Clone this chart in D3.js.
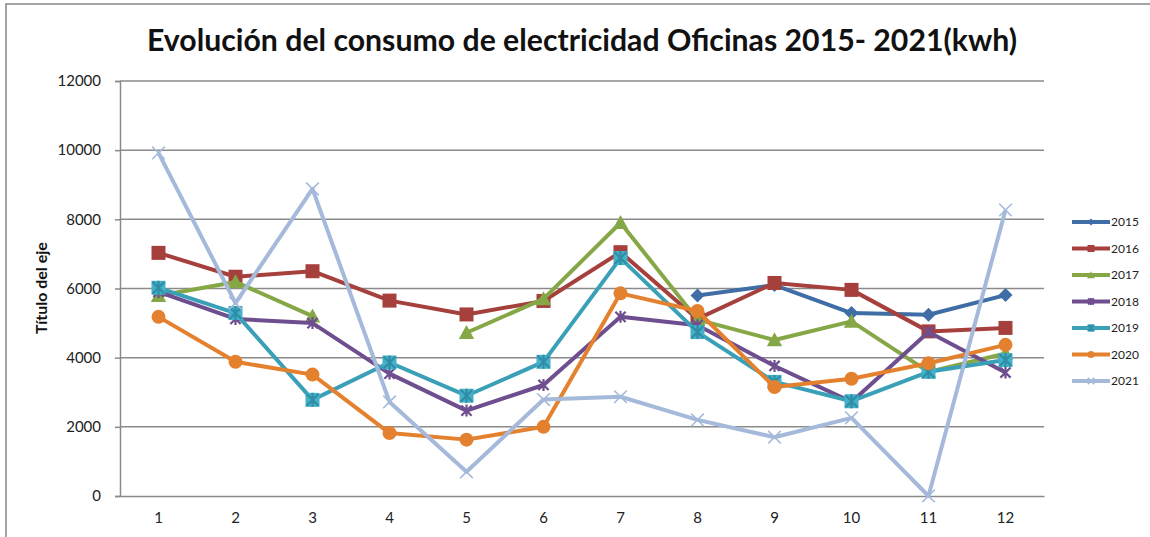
<!DOCTYPE html>
<html>
<head>
<meta charset="utf-8">
<script src="https://cdn.jsdelivr.net/npm/d3@7"></script>
<style>
  body { margin: 0; background: #fff; }
  svg { display: block; font-family: Lato, "Open Sans", sans-serif; }
</style>
</head>
<body>
<svg id="chart" width="1150" height="537"></svg>
<script>
// months on the x axis
var months = [1, 2, 3, 4, 5, 6, 7, 8, 9, 10, 11, 12];
var yTicks = [0, 2000, 4000, 6000, 8000, 10000, 12000];
var years = ['2015', '2016', '2017', '2018', '2019', '2020', '2021'];

// consumption per year (null = no data)
var v2015 = [null, null, null, null, null, null, null, 5800, 6100, 5290, 5240, 5810];
var v2016 = [7030, 6340, 6500, 5650, 5250, 5640, 7050, 5120, 6160, 5960, 4760, 4860];
var v2017 = [5790, 6190, 5200, null, 4720, 5700, 7900, 5100, 4510, 5050, 3590, 4120];
var v2018 = [5900, 5120, 5000, 3540, 2470, 3210, 5180, 4940, 3760, 2720, 4740, 3570];
var v2019 = [6020, 5290, 2780, 3860, 2900, 3880, 6880, 4740, 3300, 2740, 3590, 3930];
var v2020 = [5180, 3880, 3510, 1820, 1630, 2000, 5860, 5350, 3150, 3390, 3840, 4370];
var v2021 = [9920, 5580, 8880, 2720, 700, 2790, 2870, 2200, 1700, 2260, 0, 8270];

var seriesValues = [v2015, v2016, v2017, v2018, v2019, v2020, v2021];
var colors = ['#3f6ea7', '#a5403d', '#86a746', '#6e4e8e', '#3aa0b8', '#e3812f', '#a5b9da'];
var markers = ['diamond', 'square', 'triangle', 'star', 'squarestar', 'circle', 'cross'];

var svg = d3.select('#chart');

// outer chart border (cropped at right/bottom)
svg.append('rect')
    .attr('x', 6).attr('y', 4)
    .attr('width', 1200).attr('height', 600)
    .attr('fill', 'none')
    .attr('stroke', '#868686')
    .attr('stroke-width', 1.5);

var plot = {l: 120, r: 1044, t: 81, b: 496};

var x = d3.scaleBand().domain(months).range([plot.l, plot.r]).paddingInner(0).paddingOuter(0);
var y = d3.scaleLinear().domain([0, 12000]).range([plot.b, plot.t]);
function cx(m) { return x(m) + x.bandwidth() / 2; }

// gridlines
svg.append('g')
    .selectAll('line')
    .data(yTicks.filter(function(d) { return d > 0; }))
    .enter().append('line')
    .attr('x1', plot.l).attr('x2', plot.r)
    .attr('y1', function(d) { return y(d); })
    .attr('y2', function(d) { return y(d); })
    .attr('stroke', '#8a8a8a')
    .attr('stroke-width', 1.5);

// y axis
var yAxis = d3.axisLeft(y).tickValues(yTicks).tickSize(5).tickPadding(14).tickFormat(d3.format('d'));
var yG = svg.append('g').attr('transform', 'translate(' + plot.l + ',0)').call(yAxis);
yG.select('.domain').attr('stroke', '#8a8a8a').attr('stroke-width', 1.5);
yG.selectAll('.tick line').attr('stroke', '#8a8a8a').attr('stroke-width', 1.5);
yG.selectAll('text').attr('font-size', 15).attr('fill', '#222').style('font-family', 'Lato, sans-serif');

// x axis
var xAxis = d3.axisBottom(x).tickSize(0).tickPadding(16);
var xG = svg.append('g').attr('transform', 'translate(0,' + plot.b + ')').call(xAxis);
xG.select('.domain').attr('stroke', '#8a8a8a').attr('stroke-width', 1.5);
xG.selectAll('text').attr('font-size', 15).attr('fill', '#222').style('font-family', 'Lato, sans-serif');

// axis title
svg.append('text')
    .attr('transform', 'translate(47,' + 288 + ') rotate(-90)')
    .attr('text-anchor', 'middle')
    .attr('font-size', 16)
    .attr('font-weight', 'bold')
    .attr('fill', '#111')
    .text('Título del eje');

// title
svg.append('text')
    .attr('x', 582).attr('y', 51)
    .attr('text-anchor', 'middle')
    .attr('font-size', 31)
    .attr('font-weight', 'bold')
    .attr('fill', '#111')
    .attr('textLength', 870)
    .attr('lengthAdjust', 'spacingAndGlyphs')
    .text('Evolución del consumo de electricidad Oficinas 2015- 2021(kwh)');

// marker drawing
function drawMarker(g, type, color, s) {
    if (type === 'diamond') {
        g.append('path').attr('d', 'M0,' + (-s) + 'L' + s + ',0L0,' + s + 'L' + (-s) + ',0Z').attr('fill', color);
    } else if (type === 'square') {
        g.append('rect').attr('x', -s).attr('y', -s).attr('width', 2 * s).attr('height', 2 * s).attr('fill', color);
    } else if (type === 'triangle') {
        g.append('path').attr('d', 'M0,' + (-s * 1.1) + 'L' + (s * 1.1) + ',' + (s * 0.9) + 'L' + (-s * 1.1) + ',' + (s * 0.9) + 'Z').attr('fill', color);
    } else if (type === 'star' || type === 'squarestar') {
        if (type === 'squarestar') {
            g.append('rect').attr('x', -s).attr('y', -s).attr('width', 2 * s).attr('height', 2 * s).attr('fill', '#45b0c9');
        }
        var k = s * 0.85;
        g.append('path')
            .attr('d', 'M' + (-k) + ',' + (-k) + 'L' + k + ',' + k + 'M' + (-k) + ',' + k + 'L' + k + ',' + (-k) + 'M0,' + (-s) + 'L0,' + s)
            .attr('stroke', type === 'squarestar' ? '#2f8ea5' : color)
            .attr('stroke-width', 2.2);
    } else if (type === 'circle') {
        g.append('circle').attr('r', s).attr('fill', color);
    } else if (type === 'cross') {
        var c = s * 0.9;
        g.append('path')
            .attr('d', 'M' + (-c) + ',' + (-c) + 'L' + c + ',' + c + 'M' + (-c) + ',' + c + 'L' + c + ',' + (-c))
            .attr('stroke', color).attr('stroke-width', 1.6);
    }
}

var line = d3.line()
    .defined(function(d) { return d.v !== null; })
    .x(function(d) { return cx(d.m); })
    .y(function(d) { return y(d.v); });

var markerSize = {diamond: 7, square: 7, triangle: 7, star: 6, squarestar: 7, circle: 7, cross: 7};

years.forEach(function(yr, i) {
    var pts = months.map(function(m, j) { return {m: m, v: seriesValues[i][j]}; });
    var g = svg.append('g').attr('class', 'series');
    g.append('path')
        .datum(pts)
        .attr('d', line)
        .attr('fill', 'none')
        .attr('stroke', colors[i])
        .attr('stroke-width', 4)
        .attr('stroke-linejoin', 'round');
    g.selectAll('.pt')
        .data(pts.filter(function(d) { return d.v !== null; }))
        .enter().append('g')
        .attr('class', 'pt')
        .attr('transform', function(d) { return 'translate(' + cx(d.m) + ',' + y(d.v) + ')'; })
        .each(function() { drawMarker(d3.select(this), markers[i], colors[i], markerSize[markers[i]]); });
});

// legend
var legend = svg.append('g');
years.forEach(function(yr, i) {
    var ly = 222 + i * 26.5;
    var lg = legend.append('g').attr('transform', 'translate(0,' + ly + ')');
    lg.append('line').attr('x1', 1072).attr('x2', 1110).attr('y1', 0).attr('y2', 0)
        .attr('stroke', colors[i]).attr('stroke-width', 4);
    var mg = lg.append('g').attr('transform', 'translate(1091,0)');
    drawMarker(mg, markers[i], colors[i], 3.5);
    lg.append('text').attr('x', 1111).attr('y', 4)
        .attr('font-size', 12).attr('fill', '#222')
        .text(yr);
});
</script>
</body>
</html>
